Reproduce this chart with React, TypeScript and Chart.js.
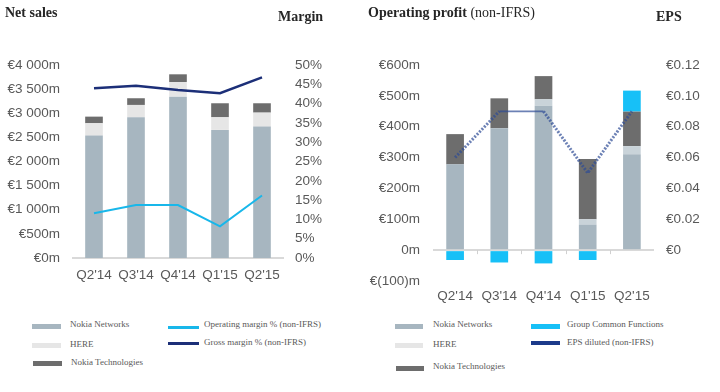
import React, { useEffect, useRef } from "react";
import { Chart, registerables } from "chart.js";

Chart.register(...registerables);

// ---------- data ----------
const quarters = ["Q2'14", "Q3'14", "Q4'14", "Q1'15", "Q2'15"];

// Net sales (EUR m)
const salesNetworks = [2537, 2917, 3344, 2655, 2723];
const salesHere = [256, 255, 304, 262, 290];
const salesTech = [137, 139, 159, 290, 194];
// Margins (%)
const operatingMargin = [11.6, 13.7, 13.7, 8.2, 16.2];
const grossMargin = [44.0, 44.6, 43.5, 42.7, 46.8];

// Operating profit non-IFRS (EUR m)
const opNetworks = [278, 395, 468, 83, 311];
const opHere = [0, 0, 21, 17, 26];
const opTech = [98, 97, 75, 195, 112];
const opGroupCommon = [-32, -40, -43, -32, 68];
// EPS diluted (EUR)
const epsDiluted = [0.06, 0.09, 0.09, 0.05, 0.09];

// ---------- styles ----------
const C_NETWORKS = "#a7b6c0";
const C_HERE = "#e6e6e6";
const C_HERE_OP = "#c9d3d9";
const C_TECH = "#6d6d6d";
const C_GCF = "#17c0f7";
const C_OPM = "#18b7ea";
const C_GM = "#1c2f78";
const C_EPS = "rgba(45,75,150,0.7)";
const C_EPS_LEG = "#1c3a8a";
const TICK_COLOR = "#595959";
const SANS = "'Liberation Sans', Arial, sans-serif";
const SERIF = "'Liberation Serif', 'Times New Roman', serif";
const tickFont = { family: SANS, size: 13.5 };

const fmtSales = (v: number) =>
  "€" + (v >= 1000 ? Math.floor(v / 1000) + " " + String(v % 1000).padStart(3, "0") : String(v)) + "m";
const fmtOp = (v: number) => (v === 0 ? "0m" : v < 0 ? "€(" + Math.abs(v) + ")m" : "€" + v + "m");
const fmtEps = (v: number) => {
  const r = Math.round(v * 100) / 100;
  if (r < 0) return "";
  if (r === 0) return "€0";
  return "€" + r.toFixed(2);
};

const zeroTicks = {
  id: "zeroTicks",
  afterDatasetsDraw(chart: any) {
    const x = chart.scales.x;
    const y = chart.scales.y;
    const ctx = chart.ctx;
    const y0 = y.getPixelForValue(0);
    ctx.save();
    ctx.strokeStyle = "#d0d0d0";
    ctx.lineWidth = 1;
    for (let i = 1; i < quarters.length; i++) {
      const px = Math.round((x.getPixelForValue(i - 1) + x.getPixelForValue(i)) / 2) + 0.5;
      ctx.beginPath();
      ctx.moveTo(px, y0);
      ctx.lineTo(px, y0 + 4);
      ctx.stroke();
    }
    ctx.restore();
  },
};

function SalesChart() {
  const ref = useRef<HTMLCanvasElement>(null);
  useEffect(() => {
    if (!ref.current) return;
    const chart = new Chart(ref.current, {
      type: "bar",
      data: {
        labels: quarters,
        datasets: [
          { type: "line", label: "Operating margin % (non-IFRS)", data: operatingMargin, yAxisID: "y1", borderColor: C_OPM, borderWidth: 2, pointRadius: 0, tension: 0, order: 0 } as any,
          { type: "line", label: "Gross margin % (non-IFRS)", data: grossMargin, yAxisID: "y1", borderColor: C_GM, borderWidth: 2.5, pointRadius: 0, tension: 0, order: 0 } as any,
          { label: "Nokia Networks", data: salesNetworks, backgroundColor: C_NETWORKS, yAxisID: "y", order: 1, barPercentage: 0.42, categoryPercentage: 1 },
          { label: "HERE", data: salesHere, backgroundColor: C_HERE, yAxisID: "y", order: 1, barPercentage: 0.42, categoryPercentage: 1 },
          { label: "Nokia Technologies", data: salesTech, backgroundColor: C_TECH, yAxisID: "y", order: 1, barPercentage: 0.42, categoryPercentage: 1 },
        ],
      },
      options: {
        animation: false,
        responsive: false,
        layout: { padding: { top: 65, left: 0, right: 0, bottom: 0 } },
        plugins: { legend: { display: false }, tooltip: { enabled: false } },
        scales: {
          x: {
            stacked: true,
            grid: { display: false, drawTicks: false },
            border: { display: true, color: "#d9d9d9", width: 2 },
            ticks: { padding: 9, font: tickFont, color: TICK_COLOR, maxRotation: 0 },
            afterFit: (s: any) => { s.height = 42; },
          },
          y: {
            stacked: true,
            min: 0,
            max: 4000,
            grid: { display: false, drawTicks: false },
            border: { display: false },
            ticks: { stepSize: 500, padding: 13, font: tickFont, color: TICK_COLOR, callback: (v: any) => fmtSales(Number(v)) },
            afterFit: (s: any) => { s.width = 73; },
          },
          y1: {
            position: "right",
            min: 0,
            max: 50,
            grid: { display: false, drawTicks: false },
            border: { display: false },
            ticks: { stepSize: 5, padding: 12, font: tickFont, color: TICK_COLOR, callback: (v: any) => v + "%" },
            afterFit: (s: any) => { s.width = 77; },
          },
        },
      } as any,
    });
    return () => chart.destroy();
  }, []);
  return <canvas ref={ref} width={360} height={300} style={{ position: "absolute", left: 0, top: 0 }} />;
}

function ProfitChart() {
  const ref = useRef<HTMLCanvasElement>(null);
  useEffect(() => {
    if (!ref.current) return;
    const bar = { yAxisID: "y", order: 1, barPercentage: 0.4, categoryPercentage: 1 };
    const isFlat = (c: any) => c.p0.parsed.y === c.p1.parsed.y;
    const chart = new Chart(ref.current, {
      type: "bar",
      data: {
        labels: quarters,
        datasets: [
          {
            type: "line",
            label: "EPS diluted (non-IFRS)",
            data: epsDiluted,
            yAxisID: "y1",
            borderColor: C_EPS,
            borderWidth: 3,
            borderDash: [2, 1.5],
            pointRadius: 0,
            tension: 0,
            order: 0,
            segment: {
              borderDash: (c: any) => (isFlat(c) ? [] : [2, 1.5]),
              borderWidth: (c: any) => (isFlat(c) ? 1.8 : 3),
            },
          } as any,
          { label: "Nokia Networks", data: opNetworks, backgroundColor: C_NETWORKS, ...bar },
          { label: "HERE", data: opHere, backgroundColor: C_HERE_OP, ...bar },
          { label: "Nokia Technologies", data: opTech, backgroundColor: C_TECH, ...bar },
          { label: "Group Common Functions", data: opGroupCommon, backgroundColor: C_GCF, ...bar },
        ],
      },
      plugins: [zeroTicks],
      options: {
        animation: false,
        responsive: false,
        layout: { padding: { top: 65, left: 0, right: 0, bottom: 0 } },
        plugins: { legend: { display: false }, tooltip: { enabled: false } },
        scales: {
          x: {
            stacked: true,
            grid: { display: false, drawTicks: false },
            border: { display: false },
            ticks: { padding: 7, font: tickFont, color: TICK_COLOR, maxRotation: 0 },
            afterFit: (s: any) => { s.height = 29; },
          },
          y: {
            stacked: true,
            min: -100,
            max: 600,
            z: 1,
            grid: {
              drawTicks: false,
              color: (c: any) => (c.tick && c.tick.value === 0 ? "#d9d9d9" : "rgba(0,0,0,0)"),
              lineWidth: 2,
            },
            border: { display: false },
            ticks: { stepSize: 100, padding: 13, font: tickFont, color: TICK_COLOR, callback: (v: any) => fmtOp(Number(v)) },
            afterFit: (s: any) => { s.width = 73; },
          },
          y1: {
            position: "right",
            min: -0.02,
            max: 0.12,
            grid: { display: false, drawTicks: false },
            border: { display: false },
            ticks: { stepSize: 0.02, padding: 12, font: tickFont, color: TICK_COLOR, callback: (v: any) => fmtEps(Number(v)) },
            afterFit: (s: any) => { s.width = 66; },
          },
        },
      } as any,
    });
    return () => chart.destroy();
  }, []);
  return <canvas ref={ref} width={360} height={310} style={{ position: "absolute", left: 360, top: 0 }} />;
}

const titleStyle: React.CSSProperties = {
  position: "absolute",
  fontFamily: SERIF,
  fontSize: 14,
  fontWeight: "bold",
  color: "#262626",
  lineHeight: "16px",
  whiteSpace: "nowrap",
};

function Title({ x, cy, children }: { x: number; cy: number; children: React.ReactNode }) {
  return <div style={{ ...titleStyle, left: x, top: cy - 8 }}>{children}</div>;
}

function LegendItem({ sx, sy, sw, sh, color, tx, ty, text }: { sx: number; sy: number; sw: number; sh: number; color: string; tx: number; ty: number; text: string }) {
  return (
    <>
      <div style={{ position: "absolute", left: sx, top: sy - sh / 2, width: sw, height: sh, background: color }} />
      <div
        style={{
          position: "absolute",
          left: tx,
          top: ty - 6,
          fontFamily: SERIF,
          fontSize: 9,
          lineHeight: "12px",
          color: "#595959",
          whiteSpace: "nowrap",
        }}
      >
        {text}
      </div>
    </>
  );
}

export default function App() {
  return (
    <div style={{ position: "fixed", left: 0, top: 0, width: 720, height: 392, background: "#fff", overflow: "hidden" }}>
      <SalesChart />
      <ProfitChart />
      <Title x={5} cy={13}>Net sales</Title>
      <Title x={278} cy={17}>Margin</Title>
      <Title x={368} cy={13}>
        Operating profit <span style={{ fontWeight: "normal" }}>(non-IFRS)</span>
      </Title>
      <Title x={656} cy={17}>EPS</Title>

      <LegendItem sx={32} sy={326} sw={29} sh={5} color={C_NETWORKS} tx={70} ty={324} text="Nokia Networks" />
      <LegendItem sx={32} sy={345} sw={29} sh={5} color={C_HERE} tx={70} ty={344} text="HERE" />
      <LegendItem sx={33} sy={363} sw={29} sh={5} color={C_TECH} tx={71} ty={362} text="Nokia Technologies" />
      <LegendItem sx={168} sy={327} sw={31} sh={3} color={C_OPM} tx={204} ty={324} text="Operating margin % (non-IFRS)" />
      <LegendItem sx={168} sy={343} sw={31} sh={3} color={C_GM} tx={204} ty={342} text="Gross margin % (non-IFRS)" />

      <LegendItem sx={395} sy={326} sw={28} sh={5} color={C_NETWORKS} tx={433} ty={324} text="Nokia Networks" />
      <LegendItem sx={395} sy={345} sw={28} sh={5} color={C_HERE} tx={433} ty={344} text="HERE" />
      <LegendItem sx={396} sy={368} sw={28} sh={5} color={C_TECH} tx={433} ty={366} text="Nokia Technologies" />
      <LegendItem sx={531} sy={326} sw={29} sh={5} color={C_GCF} tx={567} ty={324} text="Group Common Functions" />
      <LegendItem sx={531} sy={343} sw={29} sh={4} color={C_EPS_LEG} tx={567} ty={342} text="EPS diluted (non-IFRS)" />
    </div>
  );
}
